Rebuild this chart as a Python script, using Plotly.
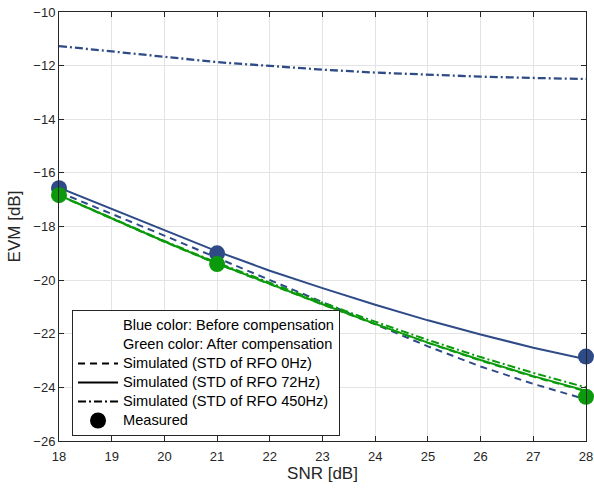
import plotly.graph_objects as go

snr = [18, 19, 20, 21, 22, 23, 24, 25, 26, 27, 28]

# Simulated, before compensation (blue)
before_0hz = [-16.72, -17.52, -18.34, -19.17, -20.00, -20.83, -21.66, -22.47, -23.22, -23.87, -24.45]
before_72hz = [-16.55, -17.35, -18.15, -18.93, -19.65, -20.30, -20.92, -21.50, -22.03, -22.52, -22.95]
before_450hz = [-11.27, -11.48, -11.67, -11.87, -12.02, -12.15, -12.26, -12.34, -12.41, -12.46, -12.50]

# Simulated, after compensation (green)
after_0hz = [-16.84, -17.72, -18.57, -19.39, -20.16, -20.91, -21.64, -22.34, -23.00, -23.60, -24.15]
after_72hz = [-16.83, -17.71, -18.56, -19.38, -20.15, -20.90, -21.63, -22.33, -22.98, -23.58, -24.13]
after_450hz = [-16.83, -17.70, -18.54, -19.35, -20.10, -20.84, -21.55, -22.23, -22.87, -23.46, -24.00]

# Measured
meas_snr = [18, 21, 28]
meas_before = [-16.57, -19.00, -22.85]
meas_after = [-16.83, -19.40, -24.35]

legend_labels = [
    "Blue color: Before compensation",
    "Green color: After compensation",
    "Simulated (STD of RFO 0Hz)",
    "Simulated (STD of RFO 72Hz)",
    "Simulated (STD of RFO 450Hz)",
    "Measured",
]

BLUE = "#2f4b87"
GREEN = "#0b9a0b"
DASH = "7px,5px"
DASHDOT = "8px,3px,2px,3px"
LW = 2

fig = go.Figure()

def line(x, y, color, dash, width=LW):
    fig.add_trace(go.Scatter(x=x, y=y, mode="lines", showlegend=False,
                             line=dict(color=color, width=width, dash=dash),
                             hoverinfo="skip"))

line(snr, before_450hz, BLUE, DASHDOT, 2.3)
line(snr, before_72hz, BLUE, "solid")
line(snr, before_0hz, BLUE, DASH)
line(snr, after_0hz, GREEN, DASH)
line(snr, after_450hz, GREEN, DASHDOT)
line(snr, after_72hz, GREEN, "solid")

fig.add_trace(go.Scatter(x=meas_snr, y=meas_before, mode="markers", showlegend=False,
                         marker=dict(color=BLUE, size=16, line=dict(width=0)), cliponaxis=False))
fig.add_trace(go.Scatter(x=meas_snr, y=meas_after, mode="markers", showlegend=False,
                         marker=dict(color=GREEN, size=16, line=dict(width=0)), cliponaxis=False))

def lg(text):
    return '<span style="font-size:14.6px">' + text + '</span>'

# Legend entries
fig.add_trace(go.Scatter(x=[None], y=[None], mode="lines", name=lg(legend_labels[0]),
                         line=dict(color="rgba(0,0,0,0)", width=0)))
fig.add_trace(go.Scatter(x=[None], y=[None], mode="lines", name=lg(legend_labels[1]),
                         line=dict(color="rgba(0,0,0,0)", width=0)))
fig.add_trace(go.Scatter(x=[None], y=[None], mode="lines", name=lg(legend_labels[2]),
                         line=dict(color="black", width=LW, dash="7px,5px")))
fig.add_trace(go.Scatter(x=[None], y=[None], mode="lines", name=lg(legend_labels[3]),
                         line=dict(color="black", width=LW)))
fig.add_trace(go.Scatter(x=[None], y=[None], mode="lines", name=lg(legend_labels[4]),
                         line=dict(color="black", width=LW, dash=DASHDOT)))
fig.add_trace(go.Scatter(x=[None], y=[None], mode="markers", name=lg(legend_labels[5]),
                         marker=dict(color="black", size=16)))

axis_common = dict(
    showgrid=True, gridcolor="#e3e3e3", gridwidth=1,
    zeroline=False, showline=True, linecolor="#262626", linewidth=1,
    mirror="ticks", ticks="inside", ticklen=5, tickcolor="#262626",
    tickfont=dict(size=13, color="#262626"), automargin=False,
    ticklabeloverflow="allow",
)

fig.update_layout(
    width=594, height=491,
    margin=dict(l=59, r=8, t=12, b=50),
    paper_bgcolor="white", plot_bgcolor="white",
    font=dict(family="Liberation Sans, Arial, Helvetica, sans-serif", color="#262626"),
    xaxis=dict(range=[18, 28], dtick=1, tick0=18, ticklabelstandoff=3,
               title=dict(text="SNR [dB]", font=dict(size=17), standoff=4), **axis_common),
    yaxis=dict(range=[-26, -10], dtick=2, tick0=-26,
               title=dict(text="EVM [dB]", font=dict(size=17), standoff=8), **axis_common),
    legend=dict(x=0.0247, y=0.3054, xanchor="left", yanchor="top",
                bgcolor="white", bordercolor="#262626", borderwidth=1,
                font=dict(size=12, color="black"), tracegroupgap=0,
                itemwidth=40),
    showlegend=True,
)

fig.write_html("out.html", config={"displayModeBar": False},
               post_script="document.body.style.margin='0';document.body.style.overflow='hidden';")
